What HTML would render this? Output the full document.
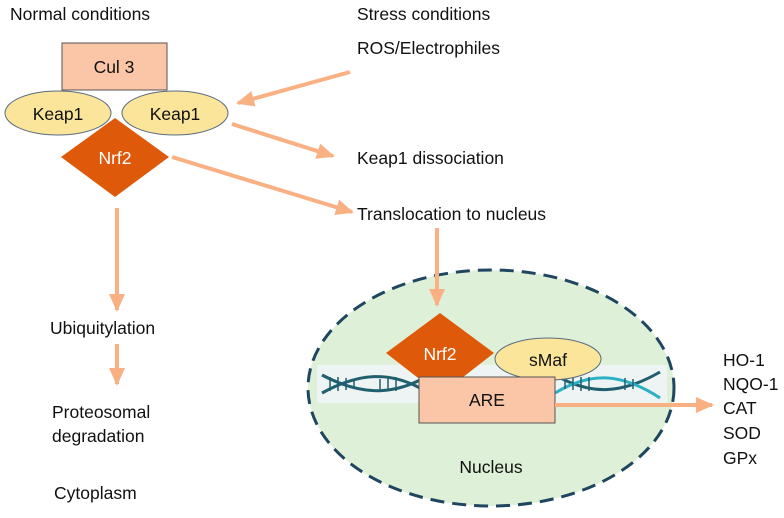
<!DOCTYPE html>
<html><head><style>
body{margin:0;background:#fff;}
svg text{font-family:"Liberation Sans",sans-serif;font-size:17.5px;fill:#111;}
</style></head><body>
<svg width="784" height="513" viewBox="0 0 784 513" xmlns="http://www.w3.org/2000/svg">
<defs>
<marker id="a" markerWidth="18" markerHeight="16" refX="16" refY="8" orient="auto" markerUnits="userSpaceOnUse"><path d="M0,0 L18,8 L0,16 z" fill="#f9b184"/></marker>
</defs>
<text x="10" y="20">Normal conditions</text>
<text x="357" y="20">Stress conditions</text>
<text x="357" y="54">ROS/Electrophiles</text>
<text x="357" y="164">Keap1 dissociation</text>
<text x="357" y="220">Translocation to nucleus</text>
<text x="50" y="334">Ubiquitylation</text>
<text x="52" y="418">Proteosomal</text>
<text x="52" y="442">degradation</text>
<text x="54" y="499">Cytoplasm</text>
<g stroke="#f9b184" stroke-width="4" fill="none">
<line x1="350" y1="72" x2="238" y2="103" marker-end="url(#a)"/>
<line x1="232" y1="124" x2="333" y2="156" marker-end="url(#a)"/>
<line x1="172" y1="157" x2="352" y2="212" marker-end="url(#a)"/>
<line x1="117" y1="208" x2="117" y2="310" marker-end="url(#a)"/>
<line x1="117" y1="344" x2="117" y2="384" marker-end="url(#a)"/>
</g>
<rect x="62" y="43" width="105" height="47" fill="#fbc5a8" stroke="#555" stroke-width="1"/>
<text x="114" y="73" text-anchor="middle">Cul 3</text>
<ellipse cx="58" cy="113" rx="53" ry="22" fill="#fbe59a" stroke="#5a6b80"/>
<text x="58" y="120" text-anchor="middle">Keap1</text>
<ellipse cx="175" cy="113" rx="53" ry="22" fill="#fbe59a" stroke="#5a6b80"/>
<text x="175" y="120" text-anchor="middle">Keap1</text>
<polygon points="115,118 169,157 115,197 61,157" fill="#de5a0a"/>
<text x="115" y="164" text-anchor="middle" style="fill:#fff">Nrf2</text>
<ellipse cx="491" cy="388" rx="183" ry="118" fill="#dff0d8" stroke="#1f4660" stroke-width="3" stroke-dasharray="14,8"/>
<line x1="437" y1="228" x2="437" y2="305" stroke="#f9b184" stroke-width="4" marker-end="url(#a)"/>
<rect x="317" y="365" width="350" height="38" fill="#eef3f3"/>
<g stroke="#1f5f6e" stroke-width="3" fill="none">
<path d="M322,375 C360,395 390,395 420,380"/>
<path d="M322,393 C360,372 390,372 420,388"/>
<path d="M555,375 C590,395 620,395 660,372"/>
<path d="M555,393 C590,372 620,372 660,398" stroke="#2bb0c4"/>
</g>
<g stroke="#1f5f6e" stroke-width="1.5">
<line x1="330" y1="377" x2="330" y2="391"/><line x1="338" y1="377" x2="338" y2="391"/><line x1="346" y1="378" x2="346" y2="390"/><line x1="354" y1="379" x2="354" y2="389"/><line x1="380" y1="379" x2="380" y2="389"/><line x1="388" y1="378" x2="388" y2="390"/><line x1="396" y1="377" x2="396" y2="391"/>
<line x1="565" y1="379" x2="565" y2="389"/><line x1="573" y1="378" x2="573" y2="390"/><line x1="581" y1="377" x2="581" y2="391"/><line x1="589" y1="377" x2="589" y2="391"/><line x1="625" y1="378" x2="625" y2="390"/><line x1="633" y1="379" x2="633" y2="389"/>
</g>
<polygon points="440,313 494,353 440,395 386,353" fill="#de5a0a"/>
<text x="440" y="360" text-anchor="middle" style="fill:#fff">Nrf2</text>
<ellipse cx="548" cy="359" rx="53" ry="21" fill="#fbe59a" stroke="#5a6b80"/>
<text x="548" y="366" text-anchor="middle">sMaf</text>
<rect x="419" y="377" width="136" height="46" fill="#fbc5a8" stroke="#555"/>
<text x="487" y="406" text-anchor="middle">ARE</text>
<line x1="555" y1="405" x2="712" y2="405" stroke="#f9b184" stroke-width="4" marker-end="url(#a)"/>
<text x="491" y="473" text-anchor="middle">Nucleus</text>
<text x="723" y="366">HO-1</text>
<text x="723" y="390">NQO-1</text>
<text x="723" y="414">CAT</text>
<text x="723" y="439">SOD</text>
<text x="723" y="464">GPx</text>
</svg>
</body></html>
